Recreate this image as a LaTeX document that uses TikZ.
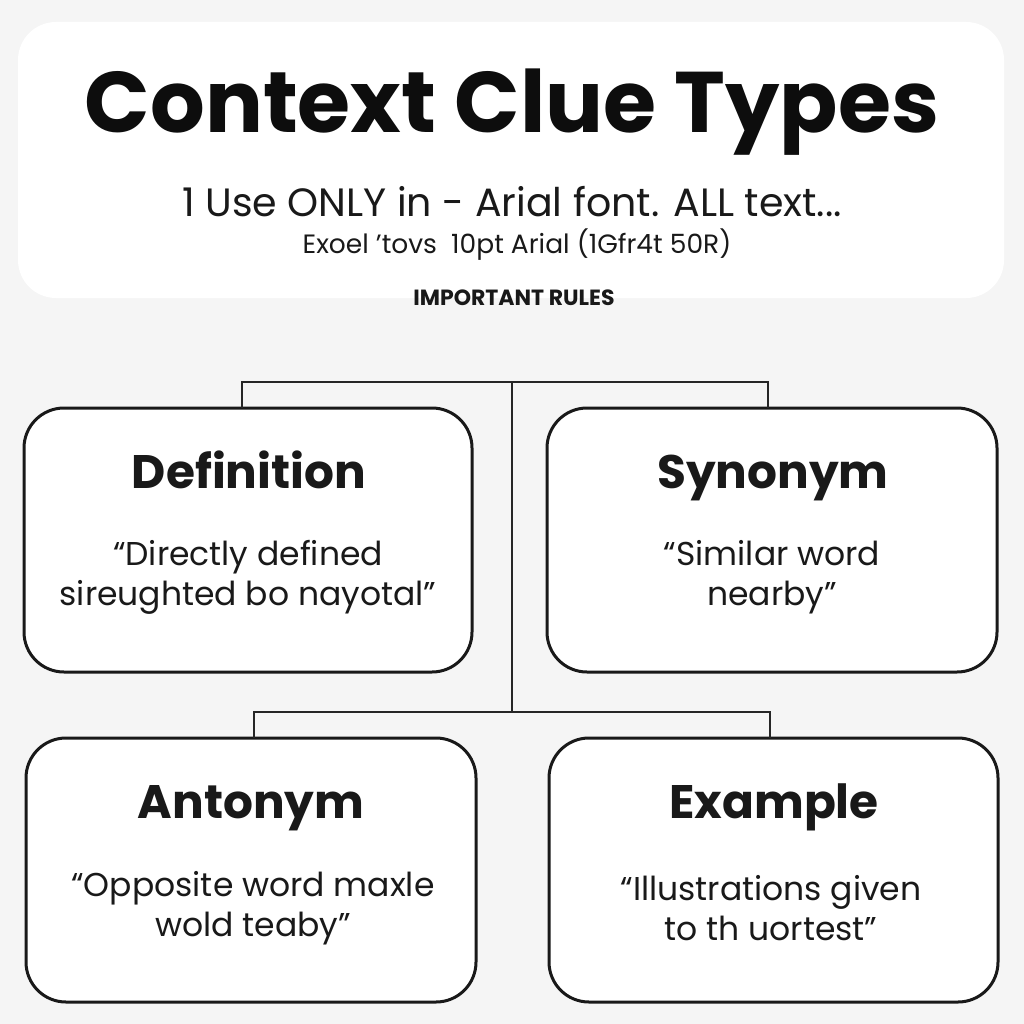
\documentclass[tikz,border=0pt]{standalone}
\usepackage{fontspec}
\setmainfont{Poppins}
\begin{document}
\begin{tikzpicture}[x=1pt,y=-1pt,
  card/.style={draw=black!90,line width=3pt,fill=white,rounded corners=40pt},
  link/.style={draw=black!85,line width=2pt},
  ttl/.style={font=\fontsize{47}{50}\selectfont\bfseries,text=black!90,anchor=base},
  body/.style={font=\fontsize{33}{40}\selectfont,align=center,text=black!90}]
\useasboundingbox (0,0) rectangle (1024,1024);
\fill[black!4] (0,0) rectangle (1024,1024);
\fill[white,rounded corners=38pt] (18,22) rectangle (1004,298);
\node[font=\fontsize{86}{90}\selectfont\bfseries,text=black!95] (title) at (512,112) {Context Clue Types};
\node[font=\fontsize{39.5}{42}\selectfont,text=black!90] (sub1) at (512,202) {1 Use ONLY in - Arial font. ALL text...};
\node[font=\fontsize{26.5}{28}\selectfont,text=black!90] (sub2) at (517,245) {Exoel 'tovs\ \ 10pt Arial (1Gfr4t 50R)};
\node[font=\fontsize{22}{24}\selectfont\bfseries,text=black!90] (rules) at (514,298) {IMPORTANT RULES};
% cards
\path[card] (24,408) rectangle (472,672);
\path[card] (547,408) rectangle (997,672);
\path[card] (26,738) rectangle (476,1002);
\path[card] (549,738) rectangle (998,1002);
% connectors
\coordinate (hub1) at (512,382);
\coordinate (hub2) at (512,712);
\coordinate (d1) at (242,408);
\coordinate (s1) at (768,408);
\coordinate (a1) at (254,738);
\coordinate (e1) at (770,738);
\draw[link] (d1) |- (hub1) -| (s1);
\draw[link] (hub1) -- (hub2);
\draw[link] (a1) |- (hub2) -| (e1);
% texts
\node[ttl] (deft) at (249,488) {Definition};
\node[body] (defb) at (248,577) {“Directly defined\\ sireughted bo nayotal”};
\node[ttl] (synt) at (773,488) {Synonym};
\node[body] (synb) at (772,577) {“Similar word\\ nearby”};
\node[ttl] (antt) at (251,818) {Antonym};
\node[body] (antb) at (253,908) {“Opposite word maxle\\ wold teaby”};
\node[ttl] (exat) at (774,818) {Example};
\node[body] (exab) at (771,908) {“Illustrations given\\ to th uortest”};
\end{tikzpicture}
\end{document}
